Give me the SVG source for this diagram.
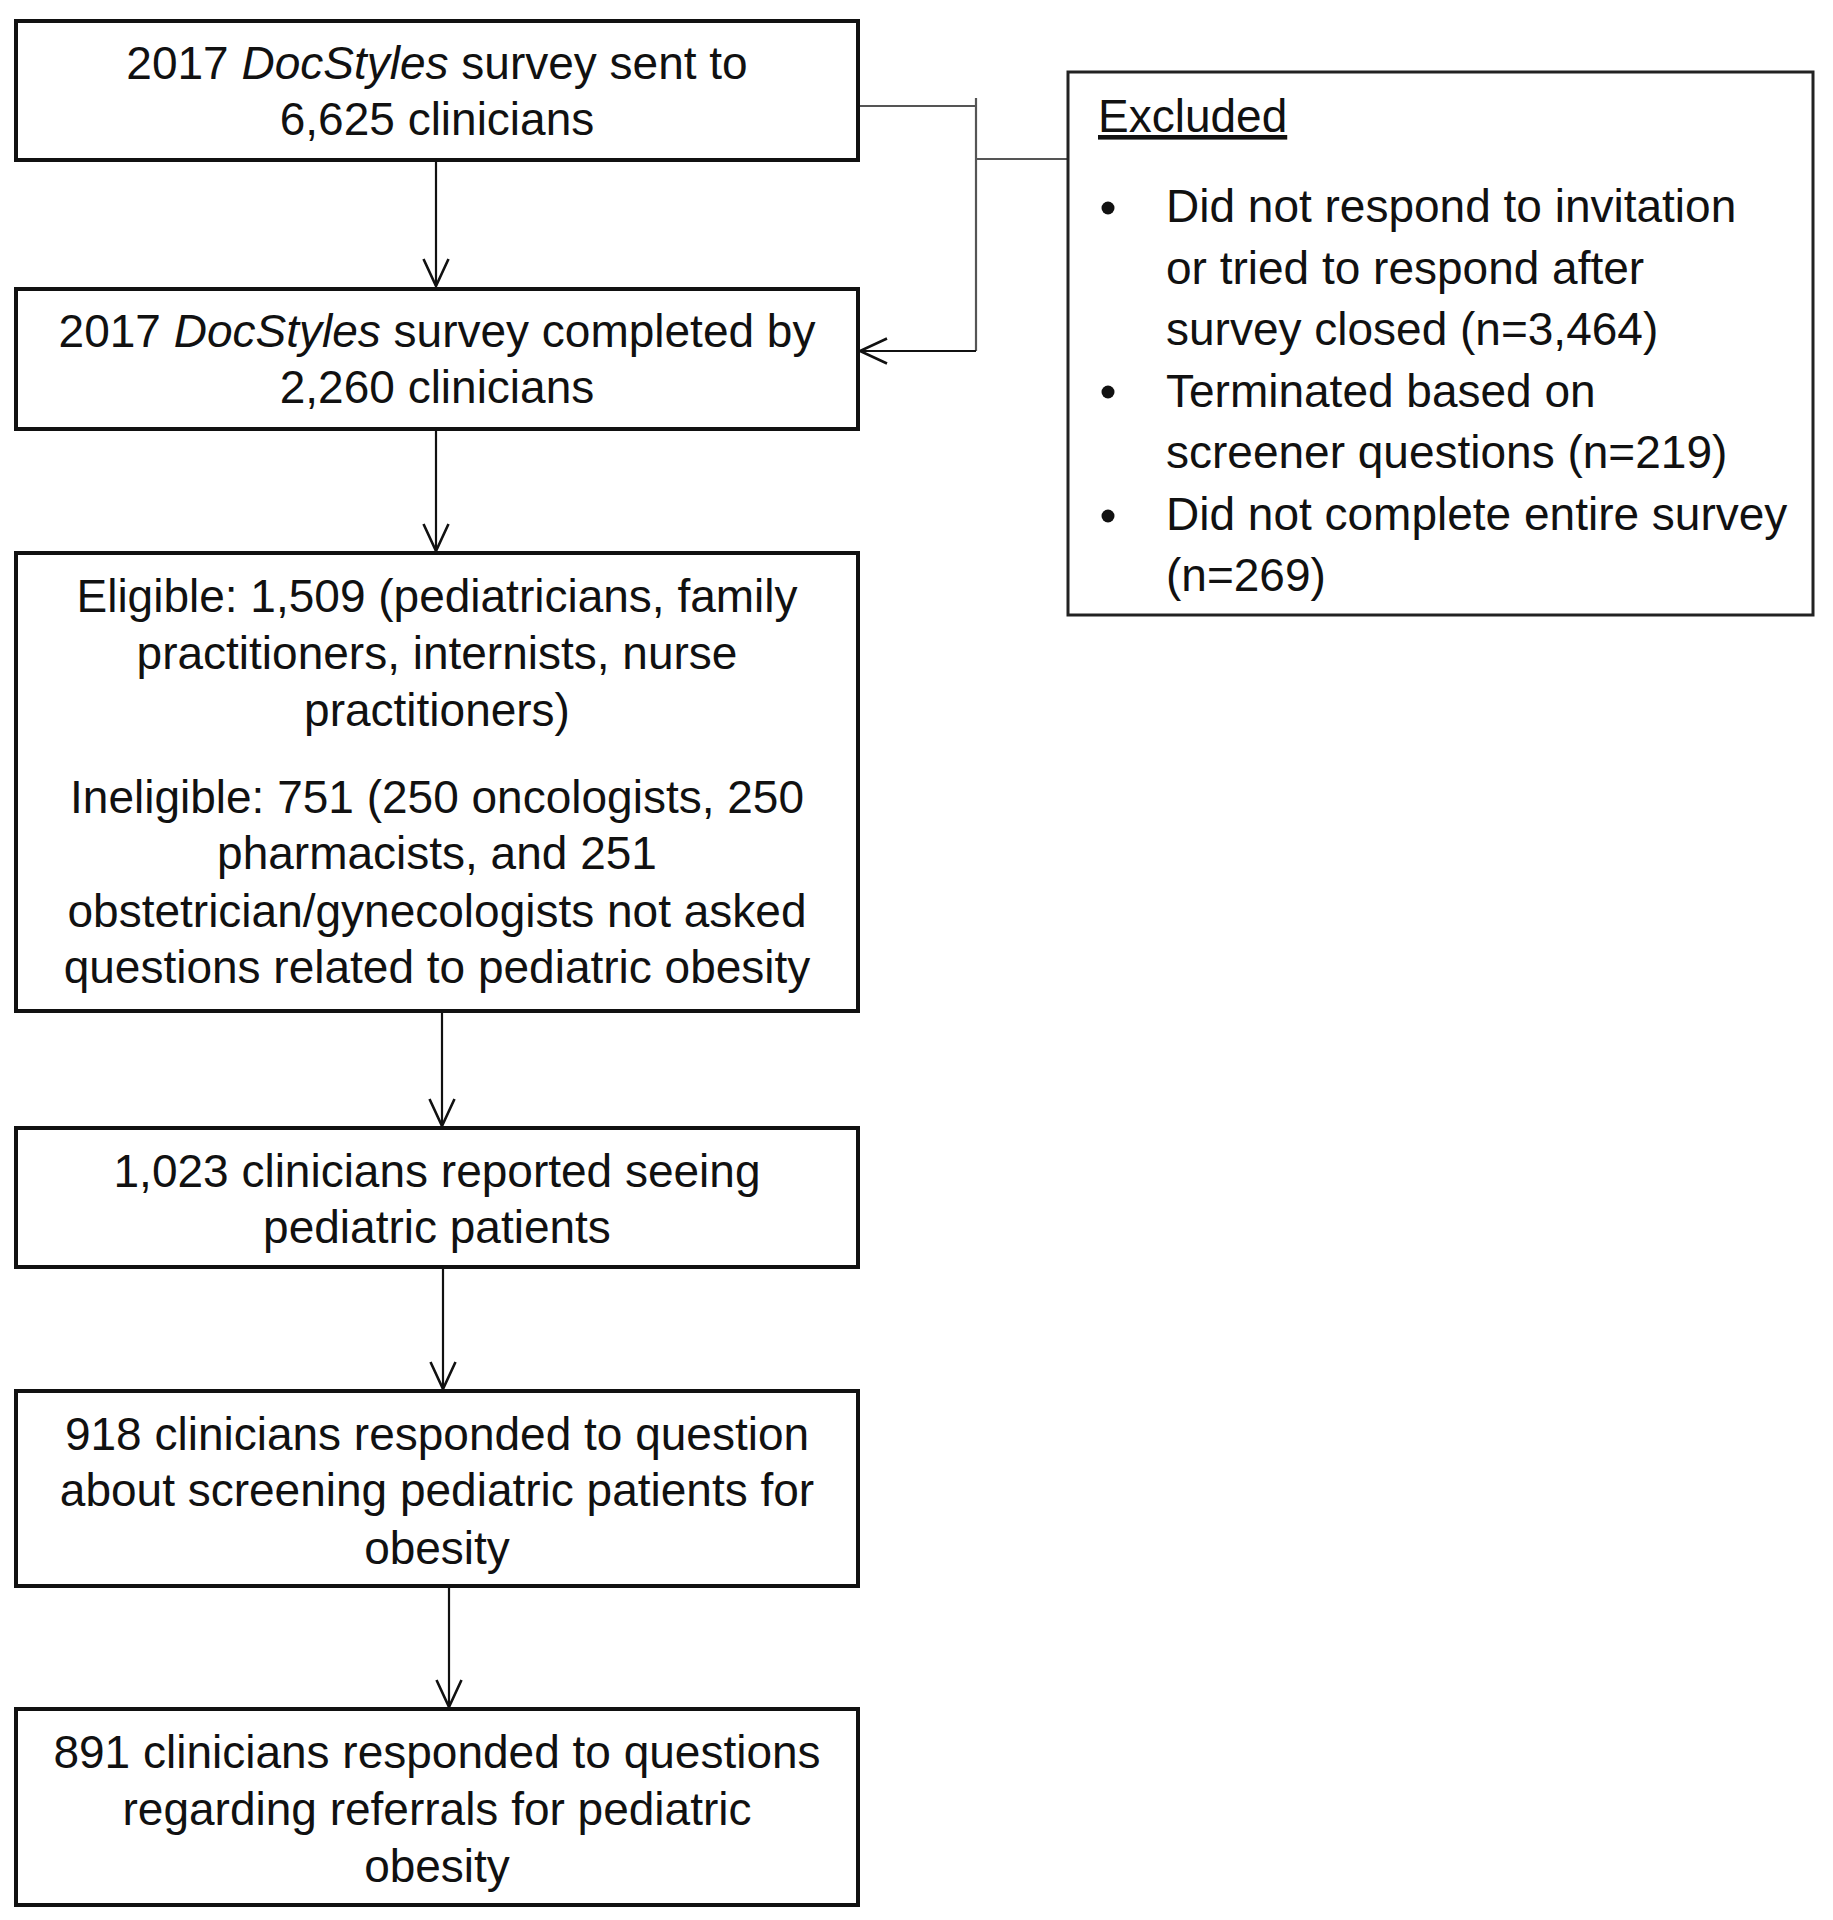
<svg xmlns="http://www.w3.org/2000/svg" width="1833" height="1920" viewBox="0 0 1833 1920">
<defs>
<style>
.box{fill:#fff;stroke:#111;stroke-width:4}
.ex{fill:#fff;stroke:#222;stroke-width:3}
.t{font-family:"Liberation Sans",Arial,sans-serif;font-size:46px;fill:#111;text-anchor:middle}
.l{font-family:"Liberation Sans",Arial,sans-serif;font-size:46px;fill:#111}
.c{fill:none;stroke:#111;stroke-width:2.2}
.g{fill:none;stroke:#555;stroke-width:2.2}
</style>
<marker id="arr" viewBox="-30 -15 32 30" markerWidth="32" markerHeight="30" refX="0" refY="0" orient="auto" markerUnits="userSpaceOnUse">
<path d="M-27,-12.5 L0,0 L-27,12.5" fill="none" stroke="#111" stroke-width="2.6"/>
</marker>
</defs>
<rect width="1833" height="1920" fill="#fff"/>
<g id="connectors">
<line class="c" x1="436" y1="162" x2="436" y2="286" marker-end="url(#arr)"/>
<line class="c" x1="436" y1="431" x2="436" y2="551" marker-end="url(#arr)"/>
<line class="c" x1="442" y1="1013" x2="442" y2="1126" marker-end="url(#arr)"/>
<line class="c" x1="443" y1="1269" x2="443" y2="1389" marker-end="url(#arr)"/>
<line class="c" x1="449" y1="1588" x2="449" y2="1707" marker-end="url(#arr)"/>
<line class="g" x1="860" y1="106" x2="976" y2="106"/>
<line class="g" x1="976" y1="98" x2="976" y2="351"/>
<line class="g" x1="976" y1="159" x2="1068" y2="159"/>
<line class="c" x1="976" y1="351" x2="860" y2="351" marker-end="url(#arr)"/>
</g>
<g id="n1">
<rect class="box" x="16" y="21" width="842" height="139"/>
<text class="t" x="437" y="79">2017 <tspan font-style="italic">DocStyles</tspan> survey sent to</text>
<text class="t" x="437" y="135">6,625 clinicians</text>
</g>
<g id="n2">
<rect class="box" x="16" y="289" width="842" height="140"/>
<text class="t" x="437" y="347">2017 <tspan font-style="italic">DocStyles</tspan> survey completed by</text>
<text class="t" x="437" y="403">2,260 clinicians</text>
</g>
<g id="n3">
<rect class="box" x="16" y="553" width="842" height="458"/>
<text class="t" x="437" y="612">Eligible: 1,509 (pediatricians, family</text>
<text class="t" x="437" y="669">practitioners, internists, nurse</text>
<text class="t" x="437" y="726">practitioners)</text>
<text class="t" x="437" y="813">Ineligible: 751 (250 oncologists, 250</text>
<text class="t" x="437" y="869">pharmacists, and 251</text>
<text class="t" x="437" y="927">obstetrician/gynecologists not asked</text>
<text class="t" x="437" y="983">questions related to pediatric obesity</text>
</g>
<g id="n4">
<rect class="box" x="16" y="1128" width="842" height="139"/>
<text class="t" x="437" y="1187">1,023 clinicians reported seeing</text>
<text class="t" x="437" y="1243">pediatric patients</text>
</g>
<g id="n5">
<rect class="box" x="16" y="1391" width="842" height="195"/>
<text class="t" x="437" y="1450">918 clinicians responded to question</text>
<text class="t" x="437" y="1506">about screening pediatric patients for</text>
<text class="t" x="437" y="1564">obesity</text>
</g>
<g id="n6">
<rect class="box" x="16" y="1709" width="842" height="196"/>
<text class="t" x="437" y="1768">891 clinicians responded to questions</text>
<text class="t" x="437" y="1825">regarding referrals for pediatric</text>
<text class="t" x="437" y="1882">obesity</text>
</g>
<g id="excluded">
<rect class="ex" x="1068" y="72" width="745" height="543"/>
<text class="l" x="1098" y="132" text-decoration="underline">Excluded</text>
<circle cx="1108" cy="208" r="6.5" fill="#111"/>
<circle cx="1108" cy="392" r="6.5" fill="#111"/>
<circle cx="1108" cy="516" r="6.5" fill="#111"/>
<text class="l" x="1166" y="222">Did not respond to invitation</text>
<text class="l" x="1166" y="284">or tried to respond after</text>
<text class="l" x="1166" y="345">survey closed (n=3,464)</text>
<text class="l" x="1166" y="407">Terminated based on</text>
<text class="l" x="1166" y="468">screener questions (n=219)</text>
<text class="l" x="1166" y="530">Did not complete entire survey</text>
<text class="l" x="1166" y="591">(n=269)</text>
</g>
</svg>
